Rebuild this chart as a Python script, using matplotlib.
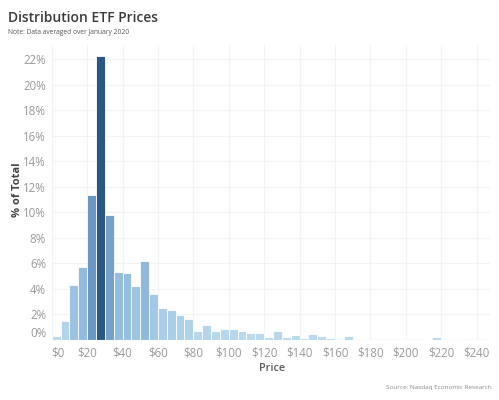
import matplotlib
matplotlib.use("Agg")
import matplotlib.pyplot as plt
import numpy as np
from matplotlib.colors import LinearSegmentedColormap

plt.rcParams['font.family'] = ['Open Sans', 'DejaVu Sans']

# Histogram data: bin start price ($) and % of total
bin_starts = list(range(0, 245, 5))
pct_total = [0.3, 1.45, 4.3, 5.7, 11.3, 22.2, 9.8, 5.3, 5.2, 4.2,
             6.2, 3.55, 2.5, 2.35, 1.9, 1.6, 0.7, 1.15, 0.7, 0.85,
             0.85, 0.65, 0.5, 0.48, 0.17, 0.68, 0.2, 0.35, 0.15, 0.4,
             0.25, 0.15, 0.08, 0.28, 0.05, 0.0, 0.07, 0.07, 0.07, 0.07,
             0.07, 0.05, 0.0, 0.22, 0.05, 0.0, 0.05, 0.05, 0.05]
bin_width = 5
x_ticks = list(range(0, 241, 20))
x_tick_labels = [f"${v}" for v in x_ticks]
y_ticks = list(range(0, 23, 2))
y_tick_labels = [f"{v}%" for v in y_ticks]

cmap = LinearSegmentedColormap.from_list(
    "tabblue", [(0.0, "#bcdcef"), (0.25, "#93bcdf"), (0.5, "#6b98c7"), (1.0, "#2a5783")])

fig = plt.figure(figsize=(4.99, 4.0), dpi=100)
ax = fig.add_axes([0.1036, 0.151, 0.982 - 0.1036, 0.8875 - 0.151])

vals = np.array(pct_total)
colors = [cmap(v / vals.max()) for v in vals]
ax.bar(bin_starts, pct_total, width=bin_width, align='edge', color=colors,
       edgecolor='white', linewidth=0.6, zorder=3)

ax.set_xlim(0, 247.6)
ax.set_ylim(0, 23.1)
ax.set_xticks(x_ticks)
ax.set_xticklabels(x_tick_labels)
ax.set_yticks(y_ticks)
ax.set_yticklabels(y_tick_labels)
ax.tick_params(axis='both', length=0, colors='#999999', labelsize=8.3)
ax.tick_params(axis='x', pad=5)
ax.tick_params(axis='y', pad=4)
ax.get_xticklabels()[0].set_horizontalalignment('left')
ax.get_yticklabels()[0].set_verticalalignment('bottom')

ax.grid(True, color='#f3f3f3', linewidth=0.8, zorder=0)
for s in ax.spines.values():
    s.set_visible(False)
ax.axhline(0, color='#e8e8e8', linewidth=0.8, zorder=4)

ax.set_ylabel("% of Total", fontsize=8, fontweight='bold', color='#444444', va='center')
ax.yaxis.set_label_coords(-0.079, 0.508)
ax.set_xlabel("Price", fontsize=7.8, fontweight='semibold', color='#5a5a5a', va='center')
ax.xaxis.set_label_coords(0.503, -0.097)

fig.text(8 / 499, 1 - 18 / 400, "Distribution ETF Prices", fontsize=10,
         fontweight='semibold', color='#3a3a3a', ha='left', va='center')
fig.text(8 / 499, 1 - 33 / 400, "Note: Data averaged over January 2020", fontsize=4.8,
         color='#555555', ha='left', va='center')
fig.text(492 / 499, 1 - 387 / 400, "Source: Nasdaq Economic Research", fontsize=4.6,
         color='#888888', ha='right', va='center')

fig.savefig("out.png", dpi=100, facecolor='white')
